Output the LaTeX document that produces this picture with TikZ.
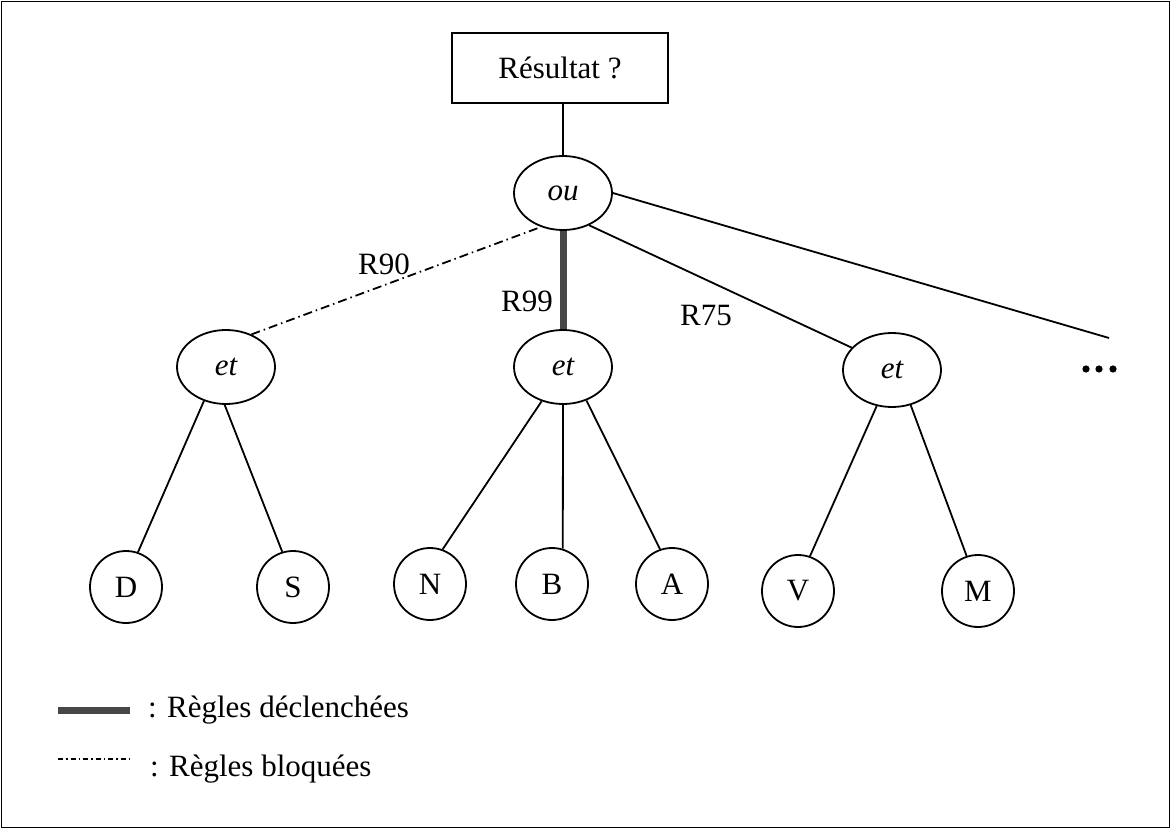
\documentclass[tikz,border=0pt]{standalone}
\usepackage{fontspec}
\setmainfont{Liberation Serif}
\usetikzlibrary{shapes.geometric}
\begin{document}
\begin{tikzpicture}[x=1pt,y=-1pt,
  every node/.style={font=\fontsize{31}{37}\selectfont},
  edge/.style={line width=1.8pt},
  goalbox/.style={draw, line width=1.6pt, minimum width=216pt, minimum height=70pt, inner sep=0pt},
  opnode/.style={draw, ellipse, line width=1.8pt, minimum width=98pt, minimum height=74pt, inner sep=0pt, font=\fontsize{31}{37}\selectfont\itshape},
  leaf/.style={draw, circle, line width=1.8pt, minimum size=72pt, inner sep=0pt},
  fired/.style={line width=7pt, draw=black!72},
  blocked/.style={line width=1.8pt, dash pattern=on 9pt off 4pt on 1.5pt off 4pt},
  blockedkey/.style={line width=1.8pt, dash pattern=on 5pt off 3pt on 1.5pt off 3pt},
  lbl/.style={inner sep=0pt}
]
\useasboundingbox (0,0) rectangle (1171,829);
% outer frame
\draw[line width=1.5pt] (1.5,1.5) rectangle (1169.5,827.5);

% goal and operator nodes
\node[goalbox] (goal) at (560,68) {Résultat ?};
\node[opnode] (ou) at (563,193) {ou};
\node[opnode] (et1) at (226,367) {et};
\node[opnode] (et2) at (563,367) {et};
\node[opnode] (et3) at (892,370) {et};

% facts
\node[leaf] (D) at (126,587) {D};
\node[leaf] (S) at (293,587) {S};
\node[leaf] (N) at (430,584) {N};
\node[leaf] (B) at (552,584) {B};
\node[leaf] (A) at (672,584) {A};
\node[leaf] (V) at (798,591) {V};
\node[leaf] (M) at (978,591) {M};

% rule labels
\node[lbl] (r90) at (384,264) {R90};
\node[lbl] (r99) at (527,301) {R99};
\node[lbl] (r75) at (706,316) {R75};

% links from the goal down to the rules
\draw[edge] (goal.south -| ou.north) -- (ou.north);
\draw[blocked] (et1.52) -- (ou.237);
\draw[fired] (ou.south) -- (et2.north);
\draw[edge] (ou.309) -- (et3.151);
\coordinate (more) at (1109,338);
\draw[edge] (ou.east) -- (more);

% further rules
\fill (1086,369) circle (3.6pt) (1099,369) circle (3.6pt) (1113,369) circle (3.6pt);

% premises of each rule
\draw[edge] (et1.237) -- (D.71);
\draw[edge] (et1.268) -- (S.107);
\draw[edge] (et2.238) -- (N.70);
\draw[edge] (et2.270) -- (B.73);
\draw[edge] (et2.305) -- (A.109);
\draw[edge] (et3.247) -- (V.71);
\draw[edge] (et3.298) -- (M.108);

% key
\coordinate (fa) at (58,710);
\coordinate (fb) at (130,710);
\draw[fired] (fa) -- (fb);
\node[lbl, anchor=base west] (keyfired) at (148,717) {: Règles déclenchées};
\coordinate (ba) at (58,759);
\coordinate (bb) at (130,759);
\draw[blockedkey] (ba) -- (bb);
\node[lbl, anchor=base west] (keyblocked) at (150,776) {: Règles bloquées};
\end{tikzpicture}
\end{document}
